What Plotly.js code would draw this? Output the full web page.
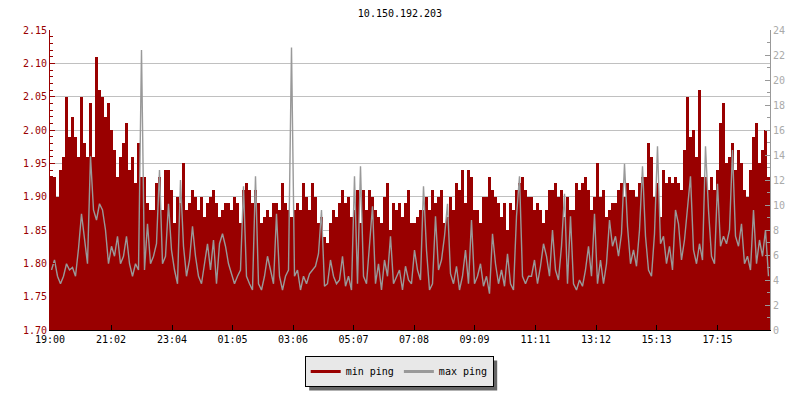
<!DOCTYPE html>
<html><head><meta charset="utf-8">
<script src="https://cdn.plot.ly/plotly-3.0.1.min.js"></script>
<style>html,body{margin:0;padding:0;background:#fff}</style>
</head><body><div id="chart" style="width:800px;height:400px"></div>
<script>
const chartTitle = "10.150.192.203";
const startTime = "19:00";
const stepMinutes = 6;
const tickLabels = ["19:00","21:02","23:04","01:05","03:06","05:07","07:08","09:09","11:11","13:12","15:13","17:15"];
const seriesNames = ["min ping", "max ping"];

const minPing = [
1.93,1.93,1.90,1.94,1.96,2.05,1.99,2.02,1.99,1.96,
2.05,1.98,1.96,2.04,1.96,2.11,2.06,2.05,2.02,2.04,
2.00,1.97,1.93,1.96,1.98,2.01,1.94,1.96,1.92,1.98,
1.93,1.93,1.89,1.88,1.88,1.92,1.93,1.88,1.94,1.94,
1.91,1.86,1.90,1.89,1.95,1.88,1.89,1.91,1.90,1.88,
1.90,1.87,1.89,1.90,1.91,1.89,1.87,1.88,1.89,1.89,
1.88,1.90,1.89,1.86,1.91,1.92,1.91,1.89,1.91,1.89,
1.86,1.87,1.88,1.87,1.89,1.89,1.88,1.92,1.89,1.88,
1.87,1.88,1.89,1.88,1.92,1.90,1.88,1.92,1.90,1.86,
1.87,1.84,1.83,1.86,1.88,1.87,1.89,1.91,1.89,1.90,
1.87,1.88,1.91,1.86,1.91,1.88,1.91,1.90,1.88,1.87,
1.86,1.90,1.92,1.85,1.89,1.88,1.89,1.87,1.89,1.91,
1.86,1.86,1.87,1.88,1.88,1.90,1.88,1.91,1.89,1.90,
1.91,1.86,1.87,1.90,1.88,1.92,1.91,1.94,1.89,1.94,
1.93,1.88,1.88,1.86,1.90,1.90,1.93,1.91,1.90,1.89,
1.87,1.89,1.85,1.89,1.88,1.91,1.92,1.93,1.91,1.90,
1.90,1.88,1.89,1.88,1.86,1.88,1.91,1.91,1.92,1.90,
1.91,1.87,1.90,1.88,1.88,1.92,1.91,1.92,1.93,1.91,
1.88,1.90,1.95,1.90,1.91,1.87,1.88,1.89,1.89,1.91,
1.92,1.90,1.92,1.91,1.91,1.90,1.92,1.93,1.93,1.98,
1.96,1.90,1.92,1.87,1.94,1.92,1.93,1.92,1.93,1.92,
1.91,1.97,2.05,1.99,2.00,1.96,2.06,1.93,1.93,1.91,
1.93,1.91,1.94,2.01,2.04,1.95,1.96,1.98,1.94,1.97,
1.95,1.91,1.90,1.94,1.99,2.01,1.95,1.97,2.00,1.93
];

const maxPing = [
4.8,5.6,4.3,3.7,4.3,5.3,4.8,5.0,4.3,6.5,
9.3,7.5,5.3,13.9,9.6,8.8,10.1,9.6,8.0,5.3,
6.7,5.9,7.5,5.3,5.9,7.5,5.3,4.3,5.3,4.8,
22.4,4.8,8.5,5.3,5.9,6.9,12.8,5.3,5.9,10.1,
6.4,4.8,3.7,12.0,6.7,4.3,5.6,8.3,5.9,4.3,
3.7,5.3,6.9,4.8,7.2,3.7,6.9,7.7,6.7,5.3,
4.5,3.7,4.3,4.8,11.5,4.3,3.7,3.2,12.3,3.7,
3.2,4.3,5.9,4.8,3.7,9.3,4.3,3.2,4.3,4.8,
22.6,4.3,4.8,3.2,4.3,3.7,4.5,4.8,5.1,6.1,
9.6,3.5,3.7,5.6,4.3,3.7,4.0,5.9,3.5,4.3,
3.2,12.3,3.7,13.1,4.3,3.7,6.9,9.9,3.7,5.3,
3.2,5.6,4.3,7.5,3.7,4.3,4.8,3.2,5.1,4.0,
3.7,6.4,4.8,4.0,11.5,6.4,3.2,3.7,9.1,4.8,
5.6,7.5,10.1,4.5,3.7,5.1,3.2,4.3,6.4,3.7,
8.8,3.7,4.3,5.3,3.5,4.3,2.9,7.7,5.3,3.7,
4.8,3.5,6.1,3.7,3.2,9.1,12.3,4.3,3.7,4.3,
4.3,5.6,3.7,5.1,6.9,5.9,4.3,8.0,4.8,4.0,
6.7,10.9,3.7,9.1,3.7,3.2,4.0,3.5,4.8,6.7,
4.3,9.3,3.7,5.6,3.7,5.3,8.8,6.7,7.5,5.9,
7.7,13.3,8.3,5.3,6.4,5.1,8.0,13.1,7.5,4.8,
4.3,7.7,14.7,6.9,7.5,5.3,6.7,4.8,9.6,8.5,
5.6,7.2,9.9,12.3,6.4,5.3,6.9,5.6,14.7,9.6,
5.9,5.3,11.7,6.7,7.5,6.9,8.0,14.4,7.5,6.7,
8.5,5.3,5.9,4.8,9.6,5.3,7.2,5.9,8.0,4.3
];

const RED = '#990000';
const GRAY = '#999999';
const FONT = '"DejaVu Sans Mono", "Liberation Mono", monospace';

function toMin(s){ const p = s.split(':').map(Number); return p[0]*60 + p[1]; }
const t0 = toMin(startTime);
const tickVals = tickLabels.map(l => ((toMin(l) - t0) + 1440) % 1440);
const xs = minPing.map((_, i) => i * stepMinutes + stepMinutes / 2);

const traces = [
  {type:'bar', x: xs, y: minPing, width: stepMinutes, marker:{color:RED, line:{width:0}},
   name: seriesNames[0], showlegend:false, hoverinfo:'skip', yaxis:'y'},
  {type:'scatter', mode:'lines', x: xs, y: maxPing, line:{color:GRAY, width:1.4, shape:'linear'},
   name: seriesNames[1], showlegend:false, hoverinfo:'skip', yaxis:'y2'},
  {type:'scatter', mode:'lines', x:[null], y:[null], line:{color:RED, width:3}, name: seriesNames[0], yaxis:'y'},
  {type:'scatter', mode:'lines', x:[null], y:[null], line:{color:GRAY, width:3}, name: seriesNames[1], yaxis:'y2'}
];

const layout = {
  width:800, height:400,
  margin:{l:50, r:30, t:30, b:70, pad:0},
  paper_bgcolor:'#ffffff', plot_bgcolor:'#ffffff',
  font:{family:FONT, size:10, color:'#000'},
  title:{text: chartTitle, x:0.5, xanchor:'center', y:1-13/400, yanchor:'middle', font:{family:FONT, size:10, color:'#000'}},
  bargap:0,
  showlegend:true,
  legend:{orientation:'h', x:0.485, xanchor:'center', y:-0.138, yanchor:'middle',
          bgcolor:'#e8e8e8', bordercolor:'#000', borderwidth:1, font:{family:FONT, size:10, color:'#000'},
          itemwidth:30, tracegroupgap:0},
  xaxis:{range:[0,1440], tickvals: tickVals, ticktext: tickLabels, ticks:'inside', ticklen:5, tickcolor:'#000',
         showline:true, linecolor:'#000', linewidth:1, showgrid:false, zeroline:false, fixedrange:true,
         tickfont:{family:FONT, size:10, color:'#000'}},
  yaxis:{range:[1.70,2.15], tick0:1.70, dtick:0.05, tickformat:'.2f', ticks:'inside', ticklen:5, tickcolor:RED,
         showline:true, linecolor:RED, linewidth:1, showgrid:true, gridcolor:'#c0c0c0', gridwidth:1, zeroline:false,
         tickfont:{family:FONT, size:10, color:RED}, fixedrange:true,
         minor:{dtick:0.01, ticks:'inside', ticklen:3, tickcolor:RED, showgrid:false}},
  yaxis2:{overlaying:'y', side:'right', range:[0,24], tick0:0, dtick:2, ticks:'inside', ticklen:5, tickcolor:GRAY,
          showline:true, linecolor:GRAY, linewidth:1, showgrid:false, zeroline:false,
          tickfont:{family:FONT, size:10, color:'#aaaaaa'}, fixedrange:true,
          minor:{dtick:1, ticks:'inside', ticklen:3, tickcolor:GRAY, showgrid:false}}
};

Plotly.newPlot('chart', traces, layout, {staticPlot:true, displayModeBar:false}).then(gd => {
  const bg = gd.querySelector('.legend .bg');
  if (!bg) return;
  const r = bg.getBoundingClientRect();
  const c = gd.getBoundingClientRect();
  const fl = gd._fullLayout;
  const pw = fl._size.w, ph = fl._size.h, l = fl._size.l, t = fl._size.t;
  const off = 4;
  const x0 = (r.left - c.left + off - l) / pw, x1 = (r.right - c.left + off - l) / pw;
  const y0 = 1 - (r.top - c.top + off - t) / ph, y1 = 1 - (r.bottom - c.top + off - t) / ph;
  return Plotly.relayout(gd, {shapes:[{type:'rect', xref:'paper', yref:'paper', x0:x0, x1:x1, y0:y0, y1:y1,
    fillcolor:'#666666', line:{width:0}, layer:'above'}]});
});
</script>
</body></html>
